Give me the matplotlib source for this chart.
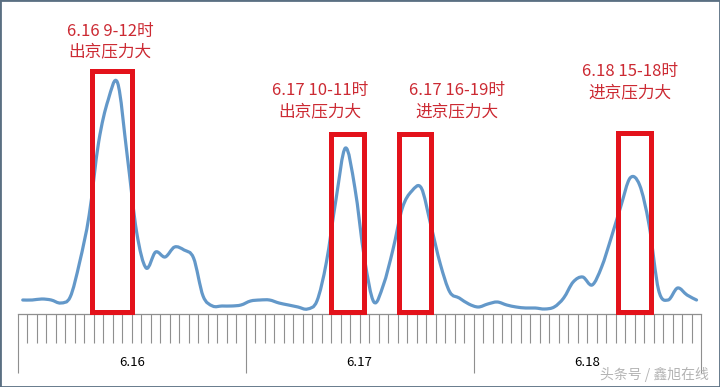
import matplotlib
matplotlib.use("Agg")
import matplotlib.pyplot as plt
from matplotlib.path import Path
from matplotlib.patches import PathPatch, Rectangle
import numpy as np

plt.rcParams['font.family'] = ['Noto Sans CJK SC', 'DejaVu Sans']

# ---- data (hourly traffic index, 3 days x 24 hours) ----
days = ["6.16", "6.17", "6.18"]
hours_per_day = 24
traffic = [14, 14, 15, 14, 11, 17, 52, 99, 172, 214, 231, 159,
           82, 46, 62, 57, 67, 64, 56, 18, 8, 8, 8, 9,
           13, 14, 14, 11, 9, 7, 5, 13, 52, 114, 166, 126,
           56, 12, 29, 64, 106, 123, 126, 89, 50, 22, 16, 10,
           7, 10, 12, 9, 7, 6, 6, 5, 7, 16, 32, 37,
           29, 47, 76, 107, 136, 129, 89, 24, 14, 26, 19, 14]
notes = ["6.16 9-12时\n出京压力大", "6.17 10-11时\n出京压力大",
         "6.17 16-19时\n进京压力大", "6.18 15-18时\n进京压力大"]
watermark = "头条号 / 鑫旭在线"

# ---- figure ----
W, H, DPI = 720, 387, 100
fig = plt.figure(figsize=(W / DPI, H / DPI), dpi=DPI)
ax = fig.add_axes([0, 0, 1, 1])
slot_px = 9.49
x0_px, base_px = 18, 314
ax.set_xlim(-x0_px / slot_px, (W - x0_px) / slot_px)
ax.set_ylim(base_px - H, base_px)
ax.set_facecolor('white')

n = len(traffic)
x = np.arange(n) + 0.5
y = np.array(traffic, dtype=float)

# smooth line (Catmull-Rom style Bezier through data points, like Excel smoothing)
pts = np.column_stack([x, y])
ext = np.vstack([pts[0], pts, pts[-1]])
verts = [pts[0]]
codes = [Path.MOVETO]
for i in range(n - 1):
    p0, p1, p2, p3 = ext[i], ext[i + 1], ext[i + 2], ext[i + 3]
    c1 = p1 + (p2 - p0) / 6.0
    c2 = p2 - (p3 - p1) / 6.0
    verts += [c1, c2, p2]
    codes += [Path.CURVE4] * 3
ax.add_patch(PathPatch(Path(verts, codes), facecolor='none',
                       edgecolor='#6398c9', lw=2.3, capstyle='round',
                       joinstyle='round', zorder=3))

# highlight boxes (slot spans) and labels
box_spans = [(7.8, 12.0, 243), (32.93, 36.46, 180.5),
             (40.15, 43.52, 180.5), (63.26, 66.7, 181)]
box_bottom = 2
for (a, b, top) in box_spans:
    ax.add_patch(Rectangle((a, box_bottom), b - a, top - box_bottom,
                           fill=False, edgecolor='#e3121b', lw=3.6,
                           joinstyle='miter', zorder=4))
label_pos = [(9.69, 272.5), (31.8, 213), (46.3, 213), (64.5, 232)]
for txt, (lx, ly) in zip(notes, label_pos):
    ax.text(lx, ly, txt, ha='center', va='center', fontsize=12,
            color='#cc2a33', linespacing=1.3, zorder=5)

# ruler-like category axis
for s in ['top', 'right', 'left']:
    ax.spines[s].set_visible(False)
ax.spines['bottom'].set_position(('data', 0))
ax.spines['bottom'].set_color('#8f8f8f')
ax.spines['bottom'].set_linewidth(0.9)
ax.spines['bottom'].set_bounds(0, n)
ax.set_xticks(np.arange(0, n + 1, hours_per_day))
ax.set_xticks(np.arange(0, n + 1), minor=True)
ax.set_xticklabels([])
ax.tick_params(axis='x', which='major', direction='out', length=59 * 0.72,
               width=0.8, color='#8f8f8f')
ax.tick_params(axis='x', which='minor', direction='out', length=29 * 0.72,
               width=0.8, color='#8f8f8f')
ax.set_yticks([])
for i, d in enumerate(days):
    ax.text(hours_per_day * (i + 0.5), base_px - 363, d, ha='center',
            va='center', fontsize=9.5, color='black')

fig.text(654 / W, 1 - 374 / H, watermark, ha='center', va='center',
         fontsize=10, color='#b4b4b4')

fig.patches.append(Rectangle((0, 0), 1, 1, transform=fig.transFigure,
                             fill=False, edgecolor='#5a6f82', lw=2.0))

fig.savefig('out.png', dpi=DPI)
